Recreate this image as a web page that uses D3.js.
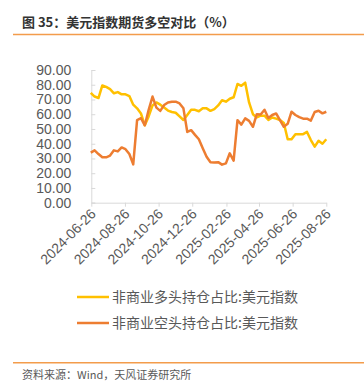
<!DOCTYPE html>
<html>
<head>
<meta charset="utf-8">
<script src="https://cdn.jsdelivr.net/npm/d3@7"></script>
<style>
  html, body { margin: 0; padding: 0; background: #fff; }
  svg { display: block; }
  text { font-family: "Liberation Sans", Arial, "Noto Sans CJK SC", sans-serif; }
</style>
</head>
<body>
<svg id="chart" width="364" height="389"></svg>
<script>
const dates = [
  "2024-06-25","2024-07-02","2024-07-09","2024-07-16","2024-07-23","2024-07-30","2024-08-06","2024-08-13",
  "2024-08-20","2024-08-27","2024-09-03","2024-09-10","2024-09-17","2024-09-24","2024-10-01","2024-10-08",
  "2024-10-15","2024-10-22","2024-10-29","2024-11-05","2024-11-12","2024-11-19","2024-11-26","2024-12-03",
  "2024-12-10","2024-12-17","2024-12-24","2024-12-31","2025-01-07","2025-01-14","2025-01-21","2025-01-28",
  "2025-02-04","2025-02-11","2025-02-18","2025-02-25","2025-03-04","2025-03-11","2025-03-18","2025-03-25",
  "2025-04-01","2025-04-08","2025-04-15","2025-04-22","2025-04-29","2025-05-06","2025-05-13","2025-05-20",
  "2025-05-27","2025-06-03","2025-06-10","2025-06-17","2025-06-24","2025-07-01","2025-07-08","2025-07-15",
  "2025-07-22","2025-07-29","2025-08-05","2025-08-12","2025-08-19","2025-08-26"
];
const longShare = [
  74.5, 72.0, 71.0, 79.5, 78.5, 77.0, 74.2, 75.0, 73.5, 73.5, 72.3, 66.5, 64.0, 60.5, 52.5, 58.5,
  66.0, 68.0, 66.5, 64.5, 62.5, 61.5, 61.0, 58.5, 56.1, 59.5, 63.0, 63.0, 62.0, 64.0, 64.0, 62.3,
  63.5, 66.0, 69.5, 68.5, 70.5, 71.5, 80.5, 79.3, 81.4, 68.0, 60.0, 57.8, 59.0, 59.0, 56.1, 57.8,
  57.0, 56.1, 54.0, 43.0, 43.0, 46.5, 46.5, 46.5, 48.0, 42.5, 38.0, 42.0, 40.0, 43.0
];
const shortShare = [
  34.0, 35.5, 33.0, 30.8, 30.8, 32.0, 35.5, 34.8, 37.5, 36.3, 33.0, 26.0, 56.0, 57.3, 52.5, 63.0,
  72.0, 64.5, 62.3, 66.2, 68.0, 68.5, 68.5, 67.3, 64.0, 48.0, 49.2, 46.0, 43.0, 37.0, 31.2, 27.5,
  27.3, 27.5, 25.8, 26.7, 33.5, 28.5, 56.0, 53.0, 57.2, 55.5, 51.5, 60.0, 59.8, 63.0, 57.5, 59.5,
  60.5, 56.0, 51.5, 53.5, 61.7, 59.5, 58.0, 57.0, 57.0, 55.7, 61.5, 62.4, 60.6, 61.7
];
const xTickLabels = ["2024-06-26","2024-08-26","2024-10-26","2024-12-26","2025-02-26","2025-04-26","2025-06-26","2025-08-26"];
const yTicks = [0, 10, 20, 30, 40, 50, 60, 70, 80, 90];
const seriesNames = ["非商业多头持仓占比:美元指数", "非商业空头持仓占比:美元指数"];
const titleText = "图 35：美元指数期货多空对比（%）";
const sourceText = "资料来源：Wind，天风证券研究所";

const parse = d3.timeParse("%Y-%m-%d");
const colors = ["#FFC000", "#ED7D31"];
const svg = d3.select("#chart");

// title
svg.append("text").attr("x", 22).attr("y", 27)
  .attr("font-size", 13).attr("font-weight", "bold").attr("fill", "#333")
  .style("font-family", "'Noto Sans CJK SC', sans-serif")
  .text(titleText);
svg.append("line").attr("x1", 13).attr("x2", 364).attr("y1", 34.5).attr("y2", 34.5)
  .attr("stroke", "#F39C4B").attr("stroke-width", 1.5);

const x = d3.scaleTime()
  .domain([parse(xTickLabels[0]), parse(xTickLabels[xTickLabels.length - 1])])
  .range([91.3, 326.3]);
const y = d3.scaleLinear().domain([0, 90]).range([202.7, 70]);

// y axis
const yAxis = d3.axisLeft(y).tickValues(yTicks).tickFormat(d3.format(".2f")).tickSize(-4).tickPadding(20);
const gy = svg.append("g").attr("transform", "translate(91.3,0)").call(yAxis);
gy.select(".domain").attr("stroke", "#d9d9d9");
gy.selectAll(".tick line").attr("stroke", "#d9d9d9");
gy.selectAll(".tick text").attr("font-size", 14).attr("fill", "#595959")
  .style("font-family", "'Liberation Sans', Arial, sans-serif");

// x axis
const xAxis = d3.axisBottom(x).tickValues(xTickLabels.map(parse))
  .tickFormat((d, i) => xTickLabels[i]).tickSize(4).tickSizeOuter(0);
const gx = svg.append("g").attr("transform", "translate(0,202.7)").call(xAxis);
gx.select(".domain").attr("stroke", "#d9d9d9");
gx.selectAll(".tick line").attr("stroke", "#d9d9d9");
gx.selectAll(".tick text").attr("font-size", 14).attr("fill", "#595959")
  .style("font-family", "'Liberation Sans', Arial, sans-serif")
  .attr("text-anchor", "end")
  .attr("dy", null).attr("y", 0)
  .attr("transform", "translate(5,12) rotate(-45)");

// lines
const seriesData = [longShare, shortShare];
const line = d3.line().x((d, i) => x(parse(dates[i]))).y(d => y(d));
seriesData.forEach((vals, k) => {
  svg.append("path").datum(vals)
    .attr("fill", "none").attr("stroke", colors[k]).attr("stroke-width", 2.5)
    .attr("stroke-linejoin", "round")
    .attr("d", line);
});

// legend
seriesNames.forEach((name, k) => {
  const ly = 297 + k * 26;
  svg.append("line").attr("x1", 77).attr("x2", 109).attr("y1", ly).attr("y2", ly)
    .attr("stroke", colors[k]).attr("stroke-width", 2.5);
  svg.append("text").attr("x", 112).attr("y", ly + 5)
    .attr("font-size", 14).attr("fill", "#595959")
    .style("font-family", "'Noto Sans CJK SC', sans-serif")
    .text(name);
});

// source
svg.append("line").attr("x1", 13).attr("x2", 364).attr("y1", 362.7).attr("y2", 362.7)
  .attr("stroke", "#F39C4B").attr("stroke-width", 1.5);
svg.append("text").attr("x", 22).attr("y", 379)
  .attr("font-size", 11).attr("fill", "#595959")
  .style("font-family", "'Noto Sans CJK SC', sans-serif")
  .text(sourceText);
</script>
</body>
</html>
